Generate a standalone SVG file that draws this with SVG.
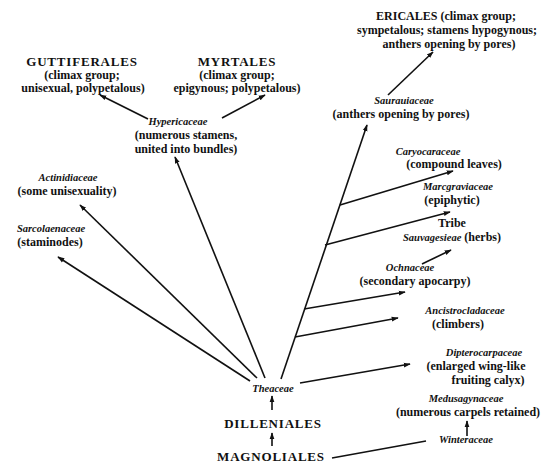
<svg xmlns="http://www.w3.org/2000/svg" width="551" height="465" viewBox="0 0 551 465">
<style>
text{font-family:"Liberation Serif","Times New Roman",serif;font-weight:bold;font-size:12px;fill:#111;text-anchor:middle}
.n{font-style:italic;font-size:10.5px}
.c{font-size:13px;letter-spacing:0.8px}
.l{fill:none;stroke:#111;stroke-width:1.6}
</style>
<defs>
<marker id="ah" viewBox="0 0 10 10" refX="9" refY="5" markerWidth="7" markerHeight="7" orient="auto" markerUnits="userSpaceOnUse">
<path d="M0,1.5 L10,5 L0,8.5 Z" fill="#111"/>
</marker>
</defs>
<rect width="551" height="465" fill="#fff"/>
<g id="connectors">
<line class="l" x1="388" y1="95" x2="433" y2="52" marker-end="url(#ah)"/>
<line class="l" x1="148" y1="119" x2="100" y2="95" marker-end="url(#ah)"/>
<line class="l" x1="222" y1="118" x2="265" y2="95" marker-end="url(#ah)"/>
<line class="l" x1="265" y1="378" x2="175" y2="157" marker-end="url(#ah)"/>
<line class="l" x1="257" y1="378" x2="80" y2="205" marker-end="url(#ah)"/>
<line class="l" x1="250" y1="381" x2="58" y2="257" marker-end="url(#ah)"/>
<line class="l" x1="281" y1="379" x2="367" y2="125" marker-end="url(#ah)"/>
<line class="l" x1="340" y1="205" x2="453" y2="171" marker-end="url(#ah)"/>
<line class="l" x1="325" y1="245" x2="450" y2="212" marker-end="url(#ah)"/>
<line class="l" x1="422" y1="264" x2="451" y2="250" marker-end="url(#ah)"/>
<line class="l" x1="304" y1="309" x2="405" y2="292" marker-end="url(#ah)"/>
<line class="l" x1="295" y1="337" x2="398" y2="318" marker-end="url(#ah)"/>
<line class="l" x1="300" y1="383" x2="410" y2="364" marker-end="url(#ah)"/>
<line class="l" x1="467" y1="436" x2="467" y2="421" marker-end="url(#ah)"/>
<line class="l" x1="332" y1="458" x2="426" y2="441"/>
<line class="l" x1="272" y1="410" x2="272" y2="396" marker-end="url(#ah)"/>
<line class="l" x1="272" y1="446" x2="272" y2="433" marker-end="url(#ah)"/>
</g>
<g id="ericales"><text x="446" y="20">ERICALES (climax group;</text><text x="447" y="34">sympetalous; stamens hypogynous;</text><text x="449" y="48">anthers opening by pores)</text></g>
<g id="guttiferales"><text class="c" x="82" y="66">GUTTIFERALES</text><text x="82" y="79">(climax group;</text><text x="83" y="92">unisexual, polypetalous)</text></g>
<g id="myrtales"><text class="c" x="237" y="66">MYRTALES</text><text x="237" y="79">(climax group;</text><text x="237" y="92">epigynous; polypetalous)</text></g>
<g id="hypericaceae"><text class="n" x="178" y="125">Hypericaceae</text><text x="186" y="139">(numerous stamens,</text><text x="186" y="153">united into bundles)</text></g>
<g id="saurauiaceae"><text class="n" x="404" y="104">Saurauiaceae</text><text x="401" y="118">(anthers opening by pores)</text></g>
<g id="caryocaraceae"><text class="n" x="428" y="155">Caryocaraceae</text><text x="454" y="168">(compound leaves)</text></g>
<g id="marcgraviaceae"><text class="n" x="458" y="190">Marcgraviaceae</text><text x="452" y="204">(epiphytic)</text></g>
<g id="sauvagesieae"><text x="452" y="227">Tribe</text><text x="452" y="241"><tspan class="n">Sauvagesieae</tspan> (herbs)</text></g>
<g id="ochnaceae"><text class="n" x="410" y="271">Ochnaceae</text><text x="415" y="285">(secondary apocarpy)</text></g>
<g id="ancistrocladaceae"><text class="n" x="465" y="314">Ancistrocladaceae</text><text x="458" y="328">(climbers)</text></g>
<g id="dipterocarpaceae"><text class="n" x="484" y="356">Dipterocarpaceae</text><text x="476" y="370">(enlarged wing-like</text><text x="488" y="384">fruiting calyx)</text></g>
<g id="medusagynaceae"><text class="n" x="466" y="402">Medusagynaceae</text><text x="468" y="416">(numerous carpels retained)</text></g>
<g id="winteraceae"><text class="n" x="466" y="443">Winteraceae</text></g>
<g id="actinidiaceae"><text class="n" x="68" y="181">Actinidiaceae</text><text x="67" y="195">(some unisexuality)</text></g>
<g id="sarcolaenaceae"><text class="n" x="51" y="232">Sarcolaenaceae</text><text x="50" y="246">(staminodes)</text></g>
<g id="theaceae"><text class="n" x="273" y="392">Theaceae</text></g>
<g id="dilleniales"><text class="c" x="273" y="428">DILLENIALES</text></g>
<g id="magnoliales"><text class="c" x="271" y="461">MAGNOLIALES</text></g>
</svg>
